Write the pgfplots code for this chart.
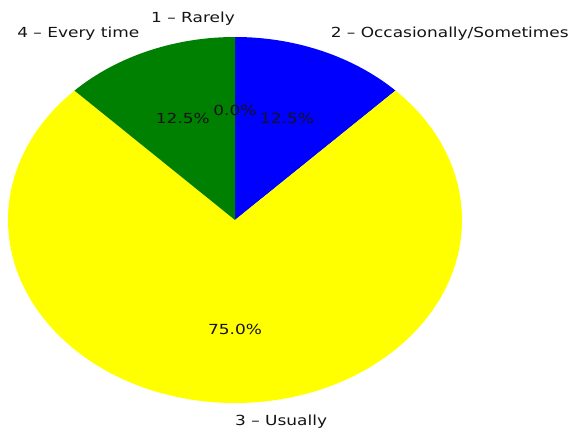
\documentclass[border=0pt]{standalone}
\usepackage{pgfplots}
\pgfplotsset{compat=1.18}
\usepackage{pgfplotstable}
\usepackage{fontspec}
\setmainfont{DejaVu Sans}[FakeStretch=1.22]
\definecolor{mplgreen}{RGB}{0,128,0}
\definecolor{mplblue}{RGB}{0,0,255}
\definecolor{mplyellow}{RGB}{255,255,0}
\definecolor{mplred}{RGB}{255,0,0}
\definecolor{txt}{RGB}{20,20,20}

\pgfplotstableread[col sep=comma]{
label,value,slicecolor,anchor
1 – Rarely,0,mplred,east
2 – Occasionally/Sometimes,12.5,mplblue,west
3 – Usually,75,mplyellow,west
4 – Every time,12.5,mplgreen,east
}\piedata

\def\cx{235}
\def\cy{212}
\def\rx{227}
\def\ry{183}

\begin{document}
\begin{tikzpicture}
\useasboundingbox (0,0) rectangle (574bp,432bp);
\tikzset{every node/.append style={font=\fontsize{13.9bp}{16bp}\selectfont, text=txt, inner sep=0pt}}
\begin{axis}[
  at={(0,0)}, anchor=south west,
  x=1bp, y=1bp,
  xmin=0, xmax=574, ymin=0, ymax=432,
  hide axis, clip=false,
]
\pgfplotstablegetrowsof{\piedata}
\pgfmathtruncatemacro\nrows{\pgfplotsretval-1}
% wedges
\gdef\cum{0}
\pgfplotsforeachungrouped \i in {0,...,\nrows}{
  \pgfplotstablegetelem{\i}{value}\of\piedata \let\v\pgfplotsretval
  \pgfplotstablegetelem{\i}{slicecolor}\of\piedata \let\slicecol\pgfplotsretval
  \pgfmathsetmacro\a{90-3.6*\cum}
  \pgfmathsetmacro\b{90-3.6*(\cum+\v)}
  \pgfmathsetmacro\sx{\cx+\rx*cos(\a)}
  \pgfmathsetmacro\sy{\cy+\ry*sin(\a)}
  \edef\temp{\noexpand\fill[\slicecol] (axis cs:\cx,\cy) -- (axis cs:\sx,\sy) arc[start angle=\a, end angle=\b, x radius=\rx bp, y radius=\ry bp] -- cycle;}
  \temp
  \pgfmathsetmacro\newcum{\cum+\v}
  \xdef\cum{\newcum}
}
% labels
\gdef\cum{0}
\pgfplotsforeachungrouped \i in {0,...,\nrows}{
  \pgfplotstablegetelem{\i}{value}\of\piedata \let\v\pgfplotsretval
  \pgfplotstablegetelem{\i}{label}\of\piedata \let\lab\pgfplotsretval
  \pgfplotstablegetelem{\i}{anchor}\of\piedata \let\anc\pgfplotsretval
  \pgfmathsetmacro\m{90-3.6*(\cum+\v/2)}
  \pgfmathsetmacro\lx{\cx+1.1*\rx*cos(\m)}
  \pgfmathsetmacro\ly{\cy+1.1*\ry*sin(\m)}
  \pgfmathsetmacro\px{\cx+0.6*\rx*cos(\m)}
  \pgfmathsetmacro\py{\cy+0.6*\ry*sin(\m)}
  \pgfmathprintnumberto[fixed,fixed zerofill,precision=1,assume math mode=true]{\v}{\pct}
  \edef\temp{\noexpand\node[anchor=\anc] at (axis cs:\lx,\ly) {\lab};
    \noexpand\node[anchor=center] at (axis cs:\px,\py) {\pct\noexpand\%};}
  \temp
  \pgfmathsetmacro\newcum{\cum+\v}
  \xdef\cum{\newcum}
}
\end{axis}
\end{tikzpicture}
\end{document}
